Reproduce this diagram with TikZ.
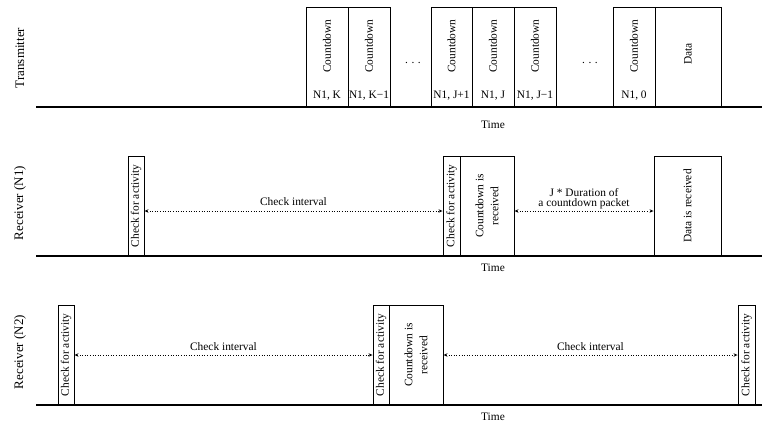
\documentclass[tikz,border=0pt]{standalone}
\usepackage{fontspec}
\setmainfont{Liberation Serif}
\usetikzlibrary{arrows.meta}

\tikzset{
  slot/.style={draw, line width=0.9pt, inner sep=0pt, minimum width=#1},
  lane/.style={line width=1.1pt},
  rowlabel/.style={rotate=90, font=\fontsize{13}{15}\selectfont},
  txt/.style={font=\fontsize{11.4}{12}\selectfont, inner sep=0pt},
  vtxt/.style={txt, rotate=90, align=center},
  interval/.style={dotted, line width=0.6pt,
    {Stealth[open,length=4pt,width=3.5pt]}-{Stealth[open,length=4pt,width=3.5pt]}},
}

\begin{document}
\begin{tikzpicture}[x=1pt, y=-1pt]
\useasboundingbox (0,0) rectangle (762,424);

% ---------------- Transmitter ----------------
\node[rowlabel] (lt) at (20,58) {Transmitter};
\coordinate (t0) at (36,107);
\coordinate (t1) at (762,107);
\draw[lane] (t0) -- (t1);
\node[txt] (tt) at (493,125) {Time};

\node[slot=42pt, minimum height=100pt] (c1) at (327,57) {};
\node[slot=42pt, minimum height=100pt] (c2) at (369,57) {};
\node[slot=41pt, minimum height=100pt] (c3) at (451.5,57) {};
\node[slot=42pt, minimum height=100pt] (c4) at (493,57) {};
\node[slot=42pt, minimum height=100pt] (c5) at (535,57) {};
\node[slot=42pt, minimum height=100pt] (c6) at (634,57) {};
\node[slot=66pt, minimum height=100pt] (dt) at (688,57) {};

% yshift works in canvas units (upwards), independent of the flipped y axis
\foreach \b/\lab in {c1/{N1, K}, c2/{N1, K\textminus1}, c3/{N1, J+1},
                     c4/{N1, J}, c5/{N1, J\textminus1}, c6/{N1, 0}} {
  \node[vtxt] at ([yshift=11pt]\b.center) {Countdown};
  \node[txt] at ([yshift=12pt]\b.south) {\lab};
}
\node[vtxt] (dtt) at ([yshift=3pt]dt.center) {Data};
\node[txt] (d1) at (413,63) {.\hspace{3.5pt}.\hspace{3.5pt}.};
\node[txt] (d2) at (590,63) {.\hspace{3.5pt}.\hspace{3.5pt}.};

% ---------------- Receiver (N1) ----------------
\node[rowlabel] (l1) at (20,203) {Receiver (N1)};
\coordinate (r0) at (36,256);
\coordinate (r1) at (762,256);
\draw[lane] (r0) -- (r1);
\node[txt] (t1l) at (493,268) {Time};

\node[slot=16pt, minimum height=100pt] (a1) at (136,206) {};
\node[slot=17pt, minimum height=100pt] (a2) at (451.5,206) {};
\node[slot=54pt, minimum height=100pt] (a3) at (487,206) {};
\node[slot=67pt, minimum height=100pt] (a4) at (687.5,206) {};
\node[vtxt] at (a1.center) {Check for activity};
\node[vtxt] at (a2.center) {Check for activity};
\node[vtxt, font=\fontsize{11.4}{15}\selectfont] at (a3.center) {Countdown is\\received};
\node[vtxt] at (a4.center) {Data is received};

\coordinate (lv1) at (0,211);
\draw[interval] (a1.east |- lv1) -- node[txt, above=5pt] {Check interval} (a2.west |- lv1);
\draw[interval] (a3.east |- lv1) -- node[txt, above=2pt, align=center,
  font=\fontsize{11.4}{10}\selectfont] {J * Duration of\\a countdown packet} (a4.west |- lv1);

% ---------------- Receiver (N2) ----------------
\node[rowlabel] (l2) at (20,352) {Receiver (N2)};
\coordinate (s0) at (36,405);
\coordinate (s1) at (762,405);
\draw[lane] (s0) -- (s1);
\node[txt] (t2l) at (493,417) {Time};

\node[slot=16pt, minimum height=100pt] (b1) at (66,355) {};
\node[slot=16pt, minimum height=100pt] (b2) at (381,355) {};
\node[slot=54pt, minimum height=100pt] (b3) at (416,355) {};
\node[slot=17pt, minimum height=100pt] (b4) at (746.5,355) {};
\node[vtxt] at (b1.center) {Check for activity};
\node[vtxt] at (b2.center) {Check for activity};
\node[vtxt, font=\fontsize{11.4}{15}\selectfont] at (b3.center) {Countdown is\\received};
\node[vtxt] at (b4.center) {Check for activity};

\coordinate (lv2) at (0,355);
\draw[interval] (b1.east |- lv2) -- node[txt, above=4pt] {Check interval} (b2.west |- lv2);
\draw[interval] (b3.east |- lv2) -- node[txt, above=4pt] {Check interval} (b4.west |- lv2);

\end{tikzpicture}
\end{document}
